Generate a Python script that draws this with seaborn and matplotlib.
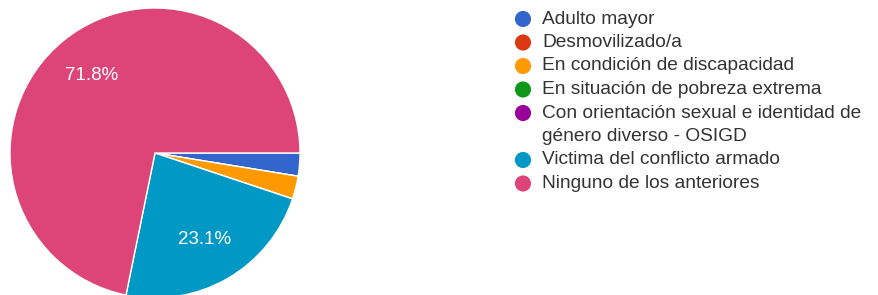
import matplotlib.pyplot as plt
import seaborn as sns

# --- DATA ---
categories = [
    "Adulto mayor",
    "Desmovilizado/a",
    "En condición de discapacidad",
    "En situación de pobreza extrema",
    "Con orientación sexual e identidad de\ngénero diverso - OSIGD",
    "Victima del conflicto armado",
    "Ninguno de los anteriores",
]
counts = [1, 0, 1, 0, 0, 9, 28]
colors = ["#3366cc", "#dc3912", "#ff9900", "#109618", "#990099", "#0099c6", "#dd4477"]

sns.set_theme(style="white")
plt.rcParams["font.family"] = ["Liberation Sans", "DejaVu Sans"]
palette = sns.color_palette(colors)

fig = plt.figure(figsize=(8.79, 2.95), dpi=100)
ax = fig.add_axes([10 / 879, -3 / 295, 290 / 879, 290 / 295])

def pct_label(p):
    # google forms hides labels for tiny slices
    return f"{p:.1f}%" if p > 5 else ""

wedges, _, autotexts = ax.pie(
    counts,
    colors=palette,
    startangle=0,
    counterclock=False,
    autopct=pct_label,
    pctdistance=0.69,
    wedgeprops=dict(edgecolor="white", linewidth=1),
    textprops=dict(color="white", fontsize=13.5),
)
ax.set_xlim(-1, 1)
ax.set_ylim(-1, 1)
ax.set_aspect("equal")

# --- LEGEND (drawn by hand so the marker sits on the first line) ---
lax = fig.add_axes([0, 0, 1, 1])
lax.set_xlim(0, 879)
lax.set_ylim(295, 0)
lax.axis("off")

row_h = 23.5
line = 0
for label, c in zip(categories, palette):
    lax.scatter(523, 19 + row_h * line, s=135, color=c, edgecolor="none")
    for part in label.split("\n"):
        lax.text(542, 19 + row_h * line, part, va="center",
                 fontsize=13.8, color="#333333")
        line += 1

fig.savefig("out.png", dpi=100)
